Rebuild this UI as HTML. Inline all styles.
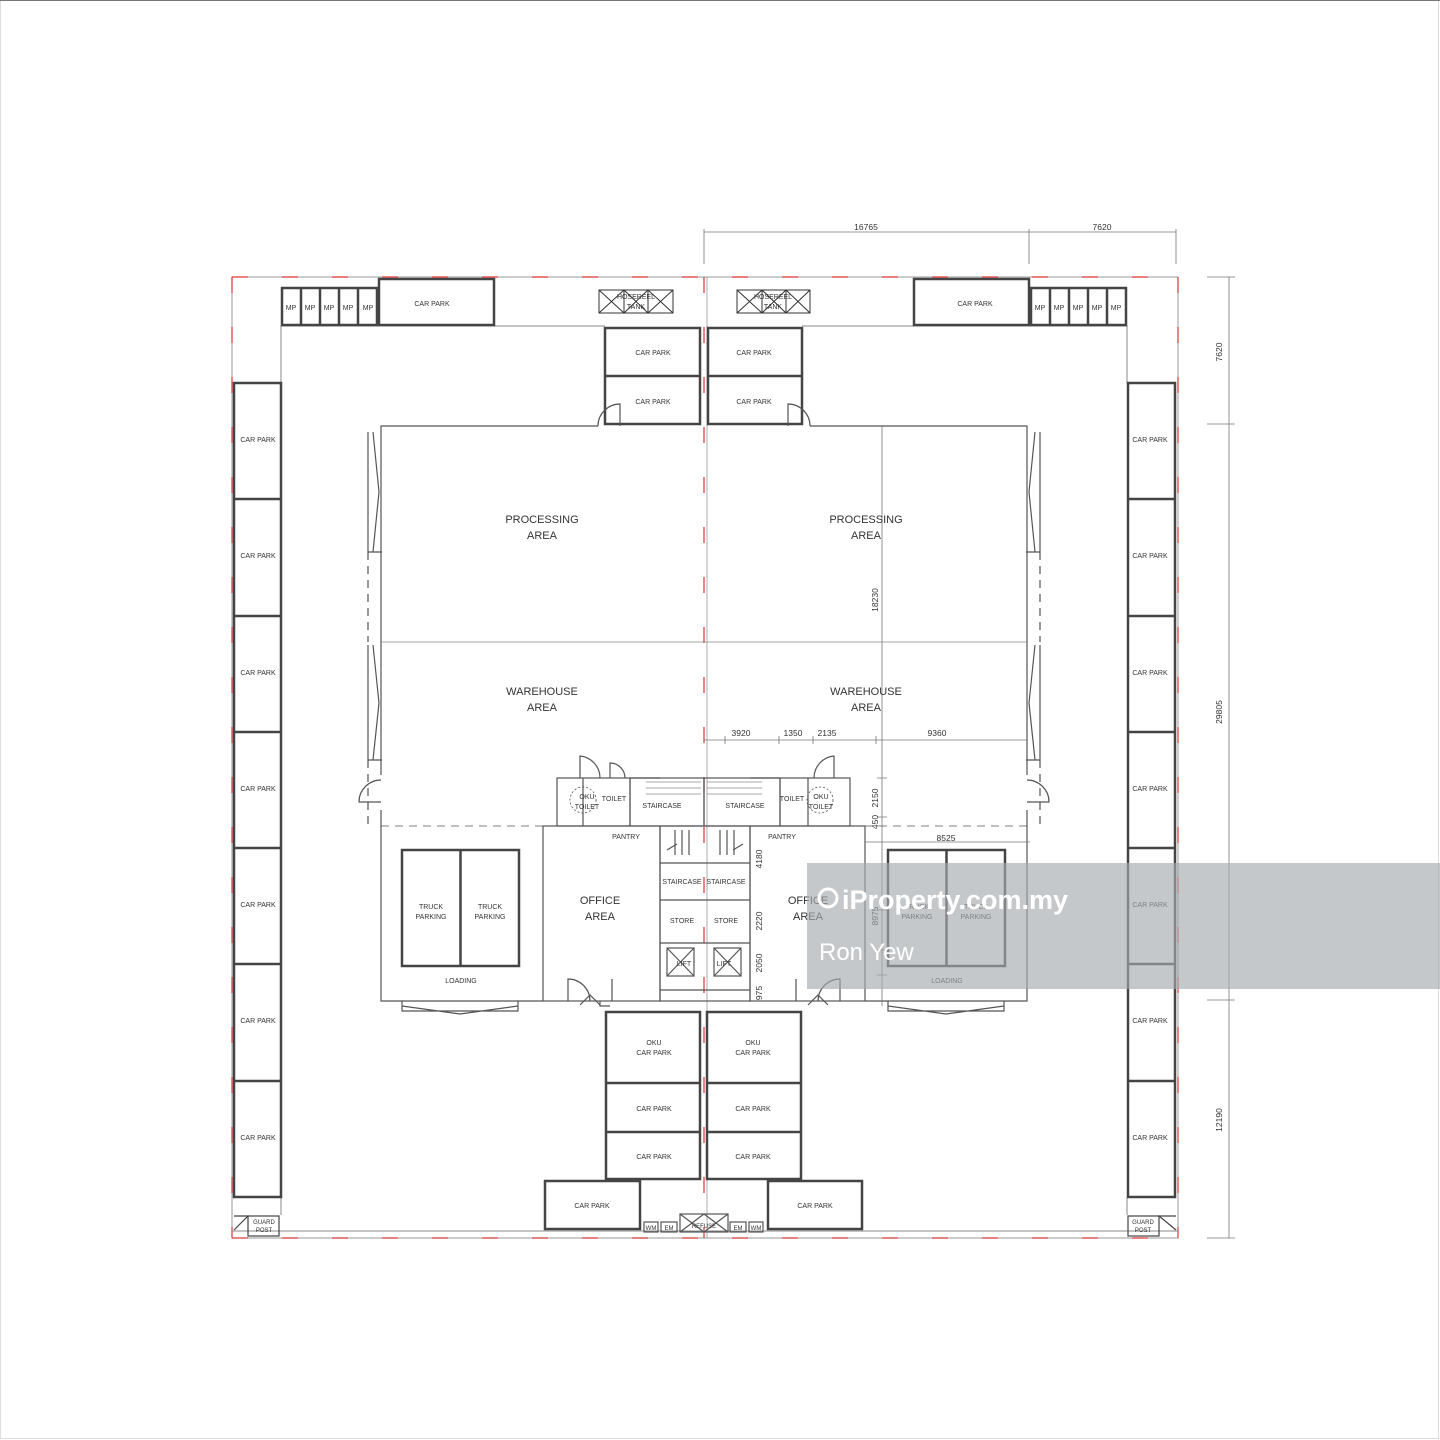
<!DOCTYPE html>
<html><head><meta charset="utf-8"><style>
html,body{margin:0;padding:0;background:#fff}
svg{display:block}
text{font-family:"Liberation Sans",sans-serif;fill:#333}
</style></head><body>
<svg width="1440" height="1440" viewBox="0 0 1440 1440" xmlns="http://www.w3.org/2000/svg">
<rect x="0.5" y="0.5" width="1438" height="1438" fill="#fff" stroke="#ddd"/>
<line x1="0" y1="0.5" x2="1440" y2="0.5" stroke="#777"/>

<!-- site boundary -->
<rect x="232" y="277" width="946" height="961" fill="none" stroke="#999" stroke-width="1"/>
<g stroke="#d33" stroke-width="1.2" stroke-dasharray="16 34">
<line x1="232" y1="277" x2="1178" y2="277"/>
<line x1="232" y1="1238" x2="1178" y2="1238"/>
<line x1="232" y1="277" x2="232" y2="1238"/>
<line x1="1178" y1="277" x2="1178" y2="1238"/>
<line x1="704" y1="277" x2="704" y2="1238"/>
</g>
<line x1="707" y1="277" x2="707" y2="1238" stroke="#999" stroke-width="0.8"/>
<!-- inner road lines -->
<g stroke="#888" stroke-width="1" fill="none">
<polyline points="281,383 281,326 605,326"/>
<polyline points="1127,383 1127,326 802,326"/>
<line x1="281" y1="1197" x2="281" y2="1215"/>
<line x1="1127" y1="1197" x2="1127" y2="1215"/>
<line x1="232" y1="1231" x2="1178" y2="1231"/>
</g>

<!-- side car parks -->
<g stroke="#444" stroke-width="2.5" fill="none">
<rect x="234" y="383" width="47" height="814"/>
<rect x="1128" y="383" width="47" height="814"/>
<path d="M234 499h47M234 616h47M234 732h47M234 848h47M234 964h47M234 1081h47"/>
<path d="M1128 499h47M1128 616h47M1128 732h47M1128 848h47M1128 964h47M1128 1081h47"/>
<rect x="282" y="288" width="95" height="37"/>
<path d="M301 288v37M320 288v37M339 288v37M358 288v37"/>
<rect x="379" y="279" width="115" height="46"/>
<rect x="914" y="279" width="115" height="46"/>
<rect x="1031" y="288" width="95" height="37"/>
<path d="M1050 288v37M1069 288v37M1088 288v37M1107 288v37"/>
<rect x="605" y="328" width="95" height="96"/><path d="M605 376h95"/>
<rect x="708" y="328" width="94" height="96"/><path d="M708 376h94"/>
<rect x="606" y="1012" width="94" height="167"/><path d="M606 1083h94M606 1132h94"/>
<rect x="707" y="1012" width="94" height="167"/><path d="M707 1083h94M707 1132h94"/>
<rect x="545" y="1181" width="95" height="48"/>
<rect x="768" y="1181" width="94" height="48"/>
<rect x="402" y="850" width="117" height="116"/><path d="M460.5 850v116"/>
<rect x="888" y="850" width="117" height="116"/><path d="M946.5 850v116"/>
</g>
<g stroke="#333" stroke-width="1" fill="none">
<rect x="599" y="290" width="74" height="23"/><path d="M599 290l25 23M624 290l-25 23M624 290l24 23M648 290l-24 23M648 290l25 23M673 290l-25 23M624 290v23M648 290v23"/>
<rect x="737" y="290" width="73" height="23"/><path d="M737 290l25 23M762 290l-25 23M762 290l24 23M786 290l-24 23M786 290l24 23M810 290l-24 23M762 290v23M786 290v23"/>
</g>
<g stroke="#444" stroke-width="1.2" fill="none">
<rect x="248" y="1216" width="31" height="20"/><path d="M234 1216h14l-14 14"/>
<rect x="1128" y="1216" width="31" height="20"/><path d="M1176 1216h-17l17 14"/>
</g>

<!-- building -->
<g stroke="#555" stroke-width="1.2" fill="none">
<polyline points="381,775 381,426 598,426"/>
<path d="M598 426a22 22 0 0 1 22-22v22"/>
<polyline points="810,426 1027,426 1027,775"/>
<path d="M810 426a22 22 0 0 0-22-22v22"/>
<line x1="381" y1="642" x2="1027" y2="642" stroke="#888" stroke-width="0.8"/>
<polyline points="381,810 381,1001 543,1001"/>
<polyline points="1027,810 1027,1001 865,1001"/>
<path d="M381 780a22 22 0 0 0-22 22h22"/>
<path d="M1027 780a22 22 0 0 1 22 22h-22"/>
<path d="M368 432v120h14M373 432l6 60-6 60M368 645v115h14M373 645l6 58-6 57"/>
<path d="M1040 432v120h-14M1035 432l-6 60 6 60M1040 645v115h-14M1035 645l-6 58 6 57"/>
<path d="M368 552v90M1040 552v90M368 760v70M1040 760v70" stroke-dasharray="8 6"/>
<path d="M402 1001v10h116v-10M402 1006l58 8 58-8"/>
<path d="M888 1001v10h116v-10M888 1006l58 8 58-8"/>
<rect x="543" y="826" width="117" height="175"/>
<rect x="750" y="826" width="115" height="175"/>
<path d="M568 1001v-22a22 22 0 0 1 22 22M580 1005l10-10 10 10M612 1001v-22M600 1001v5h10"/>
<path d="M840 1001v-22a22 22 0 0 0-22 22M808 1005l10-10 10 10M796 1001v-22"/>
<rect x="660" y="826" width="90" height="175"/>
<path d="M660 863h90M660 900h90M660 943h90M660 990h90"/>
<rect x="667" y="948" width="27" height="28"/><path d="M667 948l27 28M694 948l-27 28"/>
<rect x="714" y="948" width="27" height="28"/><path d="M714 948l27 28M741 948l-27 28"/>
<path d="M675 830v25M682 830v25M689 830v25M720 830v25M727 830v25M734 830v25"/>
<path d="M667 850l10-6M733 850l10-6"/>
<rect x="557" y="778" width="73" height="48"/>
<path d="M583 778v48M630 778h30M600 778a22 22 0 0 0-20-22v22M625 778a15 15 0 0 0-15-15v15"/>
<rect x="780" y="778" width="70" height="48"/>
<path d="M808 778v48M750 778h30M814 778a22 22 0 0 1 20-22v22"/>
<rect x="630" y="778" width="74" height="48"/>
<rect x="704" y="778" width="76" height="48"/>
<path d="M646 782h55M646 788h55M646 794h55M707 782h55M707 788h55M707 794h55" stroke-width="0.6"/>
<circle cx="583" cy="800" r="13" stroke-dasharray="2 2" stroke-width="0.8"/>
<circle cx="820" cy="800" r="13" stroke-dasharray="2 2" stroke-width="0.8"/>
<path d="M381 826h162M865 826h162" stroke-dasharray="8 6" stroke-width="0.8"/>
<rect x="644" y="1222" width="14" height="10"/><rect x="661" y="1222" width="16" height="10"/>
<rect x="680" y="1214" width="48" height="18"/><path d="M680 1214l24 18M704 1214l-24 18M704 1214l24 18M728 1214l-24 18"/>
<rect x="730" y="1222" width="16" height="10"/><rect x="749" y="1222" width="14" height="10"/>
</g>

<g stroke="#777" stroke-width="0.8" fill="none">
<path d="M704 232h472M704 229v35M1029 229v35M1176 229v35"/>
<path d="M1229 277v961M1207 277h28M1207 424h28M1207 1000h28M1207 1238h28"/>
<path d="M882 426v580M704 740h323M725 736v8M779 736v8M813 736v8M876 736v8M877 778h10M877 817h10M877 826h10M877 910h10M877 950h10M877 975h10"/>
<path d="M865 842h165"/>
</g>
<g font-size="8.5" text-anchor="middle">
<text x="866" y="230">16765</text>
<text x="1102" y="230">7620</text>
<text transform="translate(1222 352) rotate(-90)">7620</text>
<text transform="translate(1222 712) rotate(-90)">29805</text>
<text transform="translate(1222 1120) rotate(-90)">12190</text>
<text transform="translate(878 600) rotate(-90)">18230</text>
<text transform="translate(878 798) rotate(-90)">2150</text>
<text transform="translate(878 822) rotate(-90)">450</text>
<text transform="translate(762 859) rotate(-90)">4180</text>
<text transform="translate(762 921) rotate(-90)">2220</text>
<text transform="translate(762 963) rotate(-90)">2050</text>
<text transform="translate(762 993) rotate(-90)">975</text>
<text transform="translate(878 916) rotate(-90)">8975</text>
<text x="741" y="736">3920</text><text x="793" y="736">1350</text><text x="827" y="736">2135</text><text x="937" y="736">9360</text>
<text x="946" y="841">8525</text>
</g>

<g font-size="7" text-anchor="middle">
<text x="291" y="310">MP</text><text x="310" y="310">MP</text><text x="329" y="310">MP</text><text x="348" y="310">MP</text><text x="368" y="310">MP</text>
<text x="1040" y="310">MP</text><text x="1059" y="310">MP</text><text x="1078" y="310">MP</text><text x="1097" y="310">MP</text><text x="1116" y="310">MP</text>
<text x="432" y="306">CAR PARK</text><text x="975" y="306">CAR PARK</text>
<text x="653" y="355">CAR PARK</text><text x="653" y="404">CAR PARK</text>
<text x="754" y="355">CAR PARK</text><text x="754" y="404">CAR PARK</text>
<text x="636" y="299">HOSEREEL</text><text x="636" y="309">TANK</text>
<text x="773" y="299">HOSEREEL</text><text x="773" y="309">TANK</text>
<text x="258" y="442">CAR PARK</text><text x="258" y="558">CAR PARK</text><text x="258" y="675">CAR PARK</text><text x="258" y="791">CAR PARK</text><text x="258" y="907">CAR PARK</text><text x="258" y="1023">CAR PARK</text><text x="258" y="1140">CAR PARK</text>
<text x="1150" y="442">CAR PARK</text><text x="1150" y="558">CAR PARK</text><text x="1150" y="675">CAR PARK</text><text x="1150" y="791">CAR PARK</text><text x="1150" y="907">CAR PARK</text><text x="1150" y="1023">CAR PARK</text><text x="1150" y="1140">CAR PARK</text>
<text x="654" y="1045">OKU</text><text x="654" y="1055">CAR PARK</text>
<text x="753" y="1045">OKU</text><text x="753" y="1055">CAR PARK</text>
<text x="654" y="1111">CAR PARK</text><text x="654" y="1159">CAR PARK</text>
<text x="753" y="1111">CAR PARK</text><text x="753" y="1159">CAR PARK</text>
<text x="592" y="1208">CAR PARK</text><text x="815" y="1208">CAR PARK</text>
<text x="431" y="909">TRUCK</text><text x="431" y="919">PARKING</text>
<text x="490" y="909">TRUCK</text><text x="490" y="919">PARKING</text>
<text x="917" y="909">TRUCK</text><text x="917" y="919">PARKING</text>
<text x="976" y="909">TRUCK</text><text x="976" y="919">PARKING</text>
<text x="461" y="983">LOADING</text><text x="947" y="983">LOADING</text>
<text x="626" y="839">PANTRY</text><text x="782" y="839">PANTRY</text>
<text x="662" y="808">STAIRCASE</text><text x="745" y="808">STAIRCASE</text>
<text x="682" y="884">STAIRCASE</text><text x="726" y="884">STAIRCASE</text>
<text x="682" y="923">STORE</text><text x="726" y="923">STORE</text>
<text x="684" y="966">LIFT</text><text x="724" y="966">LIFT</text>
<text x="614" y="801">TOILET</text><text x="792" y="801">TOILET</text>
<text x="587" y="799">OKU</text><text x="587" y="809">TOILET</text>
<text x="821" y="799">OKU</text><text x="821" y="809">TOILET</text>
<text x="264" y="1224" font-size="6">GUARD</text><text x="264" y="1232" font-size="6">POST</text>
<text x="1143" y="1224" font-size="6">GUARD</text><text x="1143" y="1232" font-size="6">POST</text>
<text x="651" y="1230" font-size="6">WM</text><text x="669" y="1230" font-size="6">EM</text><text x="738" y="1230" font-size="6">EM</text><text x="756" y="1230" font-size="6">WM</text>
<text x="704" y="1228" font-size="6">REFUSE</text>
</g>
<g font-size="11" text-anchor="middle" fill="#222">
<text x="542" y="523">PROCESSING</text><text x="542" y="539">AREA</text>
<text x="866" y="523">PROCESSING</text><text x="866" y="539">AREA</text>
<text x="542" y="695">WAREHOUSE</text><text x="542" y="711">AREA</text>
<text x="866" y="695">WAREHOUSE</text><text x="866" y="711">AREA</text>
<text x="600" y="904">OFFICE</text><text x="600" y="920">AREA</text>
<text x="808" y="904">OFFICE</text><text x="808" y="920">AREA</text>
</g>

<rect x="807" y="863" width="633" height="126" fill="#a6abaf" opacity="0.65"/>
<circle cx="828" cy="898" r="9" fill="none" stroke="#fff" stroke-width="3"/>
<text x="842" y="909" font-size="27" font-weight="bold" style="fill:#fff">iProperty.com.my</text>
<text x="819" y="960" font-size="24" style="fill:#fff">Ron Yew</text>
</svg>
</body></html>
